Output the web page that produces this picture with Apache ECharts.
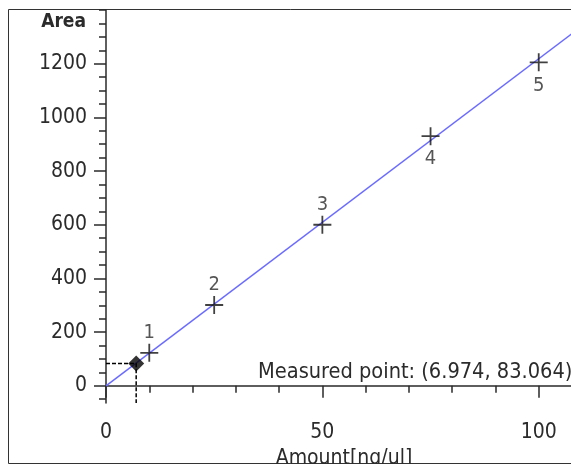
<!DOCTYPE html>
<html>
<head>
<meta charset="utf-8">
<script src="https://cdn.jsdelivr.net/npm/echarts@6/dist/echarts.min.js"></script>
<style>
html,body{margin:0;padding:0;background:#fff;}
#chart{width:571px;height:464px;}
</style>
</head>
<body>
<div id="chart"></div>
<script>
// Calibration standards
const stdLabels = ['1', '2', '3', '4', '5'];
const stdAmount = [10, 25, 50, 75, 100];
const stdArea = [123, 301, 600, 930, 1205];
// Calibration (fit) line
const fitAmount = [0, 110];
const fitArea = [0, 1340];
// Measured point
const measuredAmount = 6.974;
const measuredArea = 83.064;
// Axis ticks
const xMajorTicks = [0, 50, 100];
const xMinorTicks = [10, 20, 30, 40, 60, 70, 80, 90];
const yMajorTicks = [0, 200, 400, 600, 800, 1000, 1200];
const yMinorTicks = [-50, 50, 100, 150, 250, 300, 350, 450, 500, 550, 650, 700, 750, 850, 900, 950, 1050, 1100, 1150, 1250, 1300, 1350, 1400];
const xMin = 0, xMax = 110, yMin = -64, yMax = 1400;

const FONT = "'DejaVu Sans Condensed', 'Liberation Sans', sans-serif";
const AXIS_COLOR = '#2a2a2a';
const TEXT_COLOR = '#2b2b2b';

const chart = echarts.init(document.getElementById('chart'), null, {renderer: 'canvas'});

const plus = 'path://M9,0h2v9h9v2h-9v9h-2v-9h-9v-2h9z';

const option = {
  animation: false,
  backgroundColor: '#fff',
  grid: {left: 106, right: -11, top: 10, bottom: 61, containLabel: false, outerBoundsMode: 'none'},
  graphic: [
    {
      type: 'rect', silent: true, z: -1,
      shape: {x: 8.5, y: 9.5, width: 620, height: 454},
      style: {fill: 'none', stroke: '#333', lineWidth: 1}
    },
    {
      type: 'text', left: 258, top: 361, z: 10,
      style: {
        text: 'Measured point: (' + measuredAmount + ', ' + measuredArea + ')',
        font: '21.6px ' + FONT, fill: TEXT_COLOR
      }
    }
  ],
  xAxis: [
    {
      type: 'value', min: xMin, max: xMax, position: 'bottom',
      name: 'Amount[ng/ul]', nameLocation: 'middle', nameGap: 40,
      nameTextStyle: {fontSize: 21, fontFamily: FONT, color: TEXT_COLOR},
      axisLine: {show: true, lineStyle: {color: AXIS_COLOR, width: 1.5}},
      axisTick: {show: true, customValues: xMajorTicks, length: 12, lineStyle: {color: AXIS_COLOR, width: 1.5}},
      axisLabel: {customValues: xMajorTicks, formatter: v => String(v), fontSize: 21, fontFamily: FONT, color: TEXT_COLOR, margin: 19},
      splitLine: {show: false}
    },
    {
      type: 'value', min: xMin, max: xMax, position: 'bottom',
      axisLine: {show: false},
      axisTick: {show: true, customValues: xMinorTicks, length: 7, lineStyle: {color: AXIS_COLOR, width: 1.5}},
      axisLabel: {show: false},
      splitLine: {show: false}
    }
  ],
  yAxis: [
    {
      type: 'value', min: yMin, max: yMax, position: 'left',
      name: 'Area', nameLocation: 'end', nameGap: -12,
      nameTextStyle: {fontSize: 19, fontWeight: 'bold', fontFamily: FONT, color: TEXT_COLOR,
                      align: 'right', verticalAlign: 'middle', padding: [0, 20, 0, 0]},
      axisLine: {show: true, lineStyle: {color: AXIS_COLOR, width: 1.5}},
      axisTick: {show: true, customValues: yMajorTicks, length: 12, lineStyle: {color: AXIS_COLOR, width: 1.5}},
      axisLabel: {customValues: yMajorTicks, formatter: v => String(v), fontSize: 21, fontFamily: FONT, color: TEXT_COLOR, margin: 19},
      splitLine: {show: false}
    },
    {
      type: 'value', min: yMin, max: yMax, position: 'left',
      axisLine: {show: false},
      axisTick: {show: true, customValues: yMinorTicks, length: 7, lineStyle: {color: AXIS_COLOR, width: 1.5}},
      axisLabel: {show: false},
      splitLine: {show: false}
    }
  ],
  series: [
    {
      name: 'fit', type: 'line', xAxisIndex: 0, yAxisIndex: 0,
      data: fitAmount.map((x, i) => [x, fitArea[i]]),
      symbol: 'none', lineStyle: {color: '#6b6bff', width: 1.5}, z: 2, silent: true
    },
    {
      name: 'guide', type: 'line', xAxisIndex: 0, yAxisIndex: 0,
      data: [[xMin, measuredArea], [measuredAmount, measuredArea], [measuredAmount, yMin]],
      symbol: 'none', lineStyle: {color: '#000', width: 1.5, type: [4, 2]}, z: 3, silent: true
    },
    {
      name: 'standards', type: 'scatter', xAxisIndex: 0, yAxisIndex: 0,
      symbol: plus, symbolSize: 18,
      itemStyle: {color: '#111'},
      data: stdAmount.map((x, i) => ({
        value: [x, stdArea[i]], name: stdLabels[i],
        label: {position: i < 3 ? 'top' : 'bottom', distance: i < 3 ? 1 : 4}
      })),
      label: {show: true, formatter: p => p.name, fontSize: 20, fontFamily: FONT, color: TEXT_COLOR},
      z: 4
    },
    {
      name: 'measured', type: 'scatter', xAxisIndex: 0, yAxisIndex: 0,
      symbol: 'diamond', symbolSize: 16,
      itemStyle: {color: '#000'},
      data: [[measuredAmount, measuredArea]], z: 5
    }
  ]
};
chart.setOption(option);
</script>
</body>
</html>
